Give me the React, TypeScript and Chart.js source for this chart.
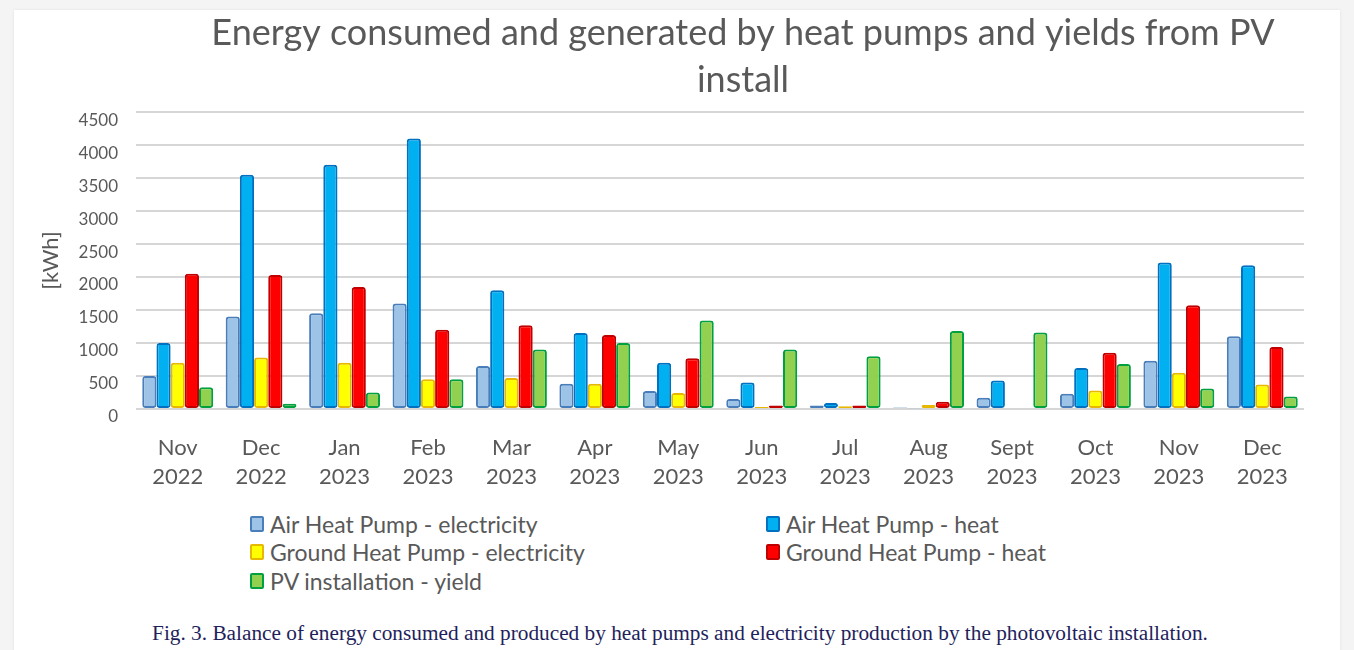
import React, { useEffect, useRef } from "react";
import { Chart, registerables } from "chart.js";

Chart.register(...registerables);

const months = ["Nov", "Dec", "Jan", "Feb", "Mar", "Apr", "May", "Jun", "Jul", "Aug", "Sept", "Oct", "Nov", "Dec"];
const years = ["2022", "2022", "2023", "2023", "2023", "2023", "2023", "2023", "2023", "2023", "2023", "2023", "2023", "2023"];

const airElectricity = [500, 1400, 1450, 1600, 650, 380, 270, 150, 50, 20, 170, 230, 730, 1100];
const airHeat = [1000, 3550, 3700, 4100, 1800, 1150, 700, 400, 90, 10, 430, 620, 2220, 2180];
const groundElectricity = [700, 780, 700, 450, 470, 380, 240, 30, 40, 60, 15, 280, 550, 370];
const groundHeat = [2050, 2030, 1850, 1200, 1270, 1120, 770, 50, 50, 110, 15, 850, 1570, 940];
const pvYield = [330, 80, 250, 450, 900, 1000, 1340, 900, 800, 1180, 1160, 680, 310, 190];

const seriesNames = [
  "Air Heat Pump - electricity",
  "Air Heat Pump - heat",
  "Ground Heat Pump - electricity",
  "Ground Heat Pump - heat",
  "PV installation - yield",
];
const fillColors = ["#9dc3e6", "#00b0f0", "#ffff00", "#ff0000", "#92d050"];
const edgeColors = ["#4a7ebb", "#0070c0", "#e8b800", "#c00000", "#00a040"];

const titleLines = ["Energy consumed and generated by heat pumps and yields from PV", "install"];
const yTitle = "[kWh]";
const caption =
  "Fig. 3. Balance of energy consumed and produced by heat pumps and electricity production by the photovoltaic installation.";

const FONT = "Lato, 'Open Sans', sans-serif";
const TEXT = "#595959";

const shiftTitle = {
  id: "shiftTitle",
  afterLayout(chart: any) {
    const tb = chart.titleBlock;
    if (tb) {
      tb.left += 84;
      tb.right += 84;
    }
  },
};

export default function App() {
  const ref = useRef<HTMLCanvasElement | null>(null);

  useEffect(() => {
    if (!ref.current) return;
    const values = [airElectricity, airHeat, groundElectricity, groundHeat, pvYield];
    const chart = new Chart(ref.current, {
      type: "bar",
      data: {
        labels: months.map((m, i) => [m, years[i]]),
        datasets: values.map((v, i) => ({
          label: seriesNames[i],
          data: v,
          backgroundColor: fillColors[i],
          borderColor: edgeColors[i],
          borderWidth: 2,
          borderRadius: 3,
          borderSkipped: false,
          categoryPercentage: 0.85,
          barPercentage: 1.0,
        })),
      },
      plugins: [shiftTitle],
      options: {
        responsive: false,
        animation: false,
        layout: { padding: { left: 0, right: 36, top: 0, bottom: 0 } },
        plugins: {
          legend: { display: false },
          tooltip: { enabled: false },
          title: {
            display: true,
            text: titleLines,
            color: TEXT,
            font: { family: FONT, size: 36, weight: "normal", lineHeight: 1.3 },
            padding: { top: 0, bottom: 8.5 },
          },
        },
        scales: {
          x: {
            grid: { display: false },
            border: { display: false },
            ticks: {
              color: TEXT,
              font: { family: FONT, size: 22, lineHeight: 1.32 },
              padding: 16.5,
              maxRotation: 0,
              autoSkip: false,
            },
          },
          y: {
            min: 0,
            max: 4500,
            border: { display: false },
            grid: { color: "#d6d6d6", lineWidth: 2, drawTicks: false },
            ticks: {
              stepSize: 500,
              color: TEXT,
              font: { family: FONT, size: 17 },
              padding: 18,
              labelOffset: 8,
              callback: (v: any) => String(v),
            },
            title: {
              display: true,
              text: yTitle,
              color: TEXT,
              font: { family: FONT, size: 22 },
              padding: { top: 24, bottom: 0 },
            },
            afterFit: (s: any) => {
              s.width = 122;
            },
          },
        },
      },
    });
    return () => chart.destroy();
  }, []);

  const legendPos = [
    { left: 250, top: 524 },
    { left: 766, top: 524 },
    { left: 250, top: 552 },
    { left: 766, top: 552 },
    { left: 250, top: 581 },
  ];

  return (
    <div style={{ position: "absolute", left: 0, top: 0, width: 1354, height: 650, background: "#f4f4f4", overflow: "hidden" }}>
      <div
        style={{
          position: "absolute",
          left: 14,
          top: 10,
          width: 1326,
          height: 660,
          background: "#ffffff",
          boxShadow: "0 0 3px rgba(0,0,0,0.08)",
        }}
      >
        <canvas ref={ref} width={1326} height={498} style={{ position: "absolute", left: 0, top: 0, width: 1326, height: 498 }} />
      </div>
      {seriesNames.map((name, i) => (
        <div
          key={name}
          style={{
            position: "absolute",
            left: legendPos[i].left,
            top: legendPos[i].top - 14,
            height: 28,
            display: "flex",
            alignItems: "center",
            fontFamily: FONT,
            fontSize: 23,
            color: TEXT,
            whiteSpace: "nowrap",
          }}
        >
          <span
            style={{
              display: "inline-block",
              width: 10,
              height: 12,
              background: fillColors[i],
              border: `2px solid ${edgeColors[i]}`,
              borderRadius: 2,
              marginRight: 6,
            }}
          />
          {name}
        </div>
      ))}
      <div
        style={{
          position: "absolute",
          left: 0,
          width: 1360,
          top: 621,
          textAlign: "center",
          fontFamily: "'Liberation Serif', 'Times New Roman', serif",
          fontSize: 21.3,
          color: "#1f1f5c",
          whiteSpace: "nowrap",
        }}
      >
        {caption}
      </div>
    </div>
  );
}
